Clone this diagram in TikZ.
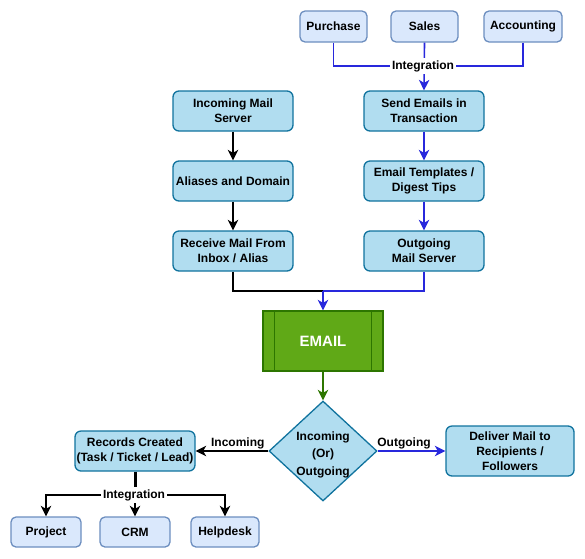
\documentclass[tikz,border=0pt]{standalone}
\usepackage{fontspec}
\setmainfont{Liberation Sans}
\usetikzlibrary{arrows.meta,shapes.geometric,positioning}
\definecolor{lblue}{HTML}{DAE8FC}
\definecolor{lblueb}{HTML}{6C8EBF}
\definecolor{mblue}{HTML}{B1DDF0}
\definecolor{mblueb}{HTML}{10739E}
\definecolor{egreen}{HTML}{60A917}
\definecolor{egreenb}{HTML}{2D7600}
\definecolor{lineblue}{RGB}{40,40,220}
\tikzset{
  every node/.style={font=\fontsize{12}{15}\selectfont\bfseries},
  topbox/.style={draw=lblueb, fill=lblue, line width=1.3pt, rounded corners=5pt, minimum height=31pt, inner sep=0pt, align=center},
  midbox/.style={draw=mblueb, fill=mblue, line width=1.3pt, rounded corners=6pt, minimum width=120pt, minimum height=40pt, inner sep=0pt, align=center},
  conn/.style={line width=1.6pt, line join=miter},
  tip/.style={-{Stealth[length=10.5pt,width=10.5pt,inset=3pt]}},
  lab/.style={fill=white, inner sep=2pt, text=black},
}
\begin{document}
\begin{tikzpicture}[x=1pt,y=-1pt]
\useasboundingbox (0,0) rectangle (585,558);
% top boxes
\node[topbox, minimum width=67pt] (purchase) at (333.5,26.5) {Purchase};
\node[topbox, minimum width=67pt] (sales) at (424.5,26.5) {Sales};
\node[topbox, minimum width=78pt] (accounting) at (523,26.5) {Accounting};
% middle boxes
\node[midbox] (inserver) at (233,111) {Incoming Mail\\Server};
\node[midbox] (aliases) at (233,181) {Aliases and Domain};
\node[midbox] (receive) at (233,251) {Receive Mail From\\Inbox / Alias};
\node[midbox] (send) at (424,111) {Send Emails in\\Transaction};
\node[midbox] (templates) at (424,181) {Email Templates /\\Digest Tips};
\node[midbox] (outserver) at (424,251) {Outgoing\\Mail Server};
% email
\node[draw=egreenb, fill=egreen, line width=1.3pt, minimum width=120pt, minimum height=60pt, inner sep=0pt, text=white, font=\fontsize{15}{18}\selectfont\bfseries] (email) at (323,341) {EMAIL};
\draw[egreenb, line width=1.3pt] ([xshift=12pt]email.north west) -- ([xshift=12pt]email.south west);
\draw[egreenb, line width=1.3pt] ([xshift=-12pt]email.north east) -- ([xshift=-12pt]email.south east);
% decision
\node[diamond, draw=mblueb, fill=mblue, line width=1.3pt, minimum width=108pt, minimum height=100pt, inner sep=0pt,
  label={[align=center, yshift=-3.5pt, font=\fontsize{12}{17.5}\selectfont\bfseries]center:Incoming\\(Or)\\Outgoing}] (dec) at (323,451) {};
% bottom boxes
\node[midbox] (records) at (135,451) {Records Created\\(Task / Ticket / Lead)};
\node[midbox, minimum width=128pt, minimum height=50pt] (deliver) at (510,451) {Deliver Mail to\\Recipients /\\Followers};
\node[topbox, minimum width=70pt, minimum height=30pt] (project) at (46,532) {Project};
\node[topbox, minimum width=70pt, minimum height=30pt] (crm) at (135,532) {CRM};
\node[topbox, minimum width=68pt, minimum height=30pt] (helpdesk) at (225,532) {Helpdesk};
% top integration
\coordinate (ig1) at (424.5,66);
\draw[conn, lineblue] (purchase.south) |- (ig1);
\draw[conn, lineblue] (accounting.south) |- (ig1);
\draw[conn, lineblue, tip] (sales.south) -- (send.north);
\node[lab] (ig1lab) at (423,66) {Integration};
% left column
\draw[conn, tip] (inserver) -- (aliases);
\draw[conn, tip] (aliases) -- (receive);
% right column
\draw[conn, lineblue, tip] (send) -- (templates);
\draw[conn, lineblue, tip] (templates) -- (outserver);
% merge
\coordinate (merge) at (323,291);
\draw[conn] (receive.south) |- (merge);
\draw[conn, lineblue] (outserver.south) |- (merge);
\draw[conn, lineblue, tip] (merge) -- (email.north);
% email to decision
\draw[conn, egreenb, tip] (email.south) -- (dec.north);
% decision branches
\draw[conn, tip] (dec.west) -- node[pos=0.42, above, inner sep=1.5pt, text=black] {Incoming} (records.east);
\draw[conn, lineblue, tip] (dec.east) -- node[pos=0.39, above, inner sep=1.5pt, text=black] {Outgoing} (deliver.west);
% bottom integration
\coordinate (ig2) at (135,495);
\draw[line width=3pt] (records.south) -- (ig2);
\draw[conn, tip] (ig2) -| (project.north);
\draw[conn, tip] (ig2) -- (crm.north);
\draw[conn, tip] (ig2) -| (helpdesk.north);
\node[lab] (ig2lab) at (134,495) {Integration};
\end{tikzpicture}
\end{document}
